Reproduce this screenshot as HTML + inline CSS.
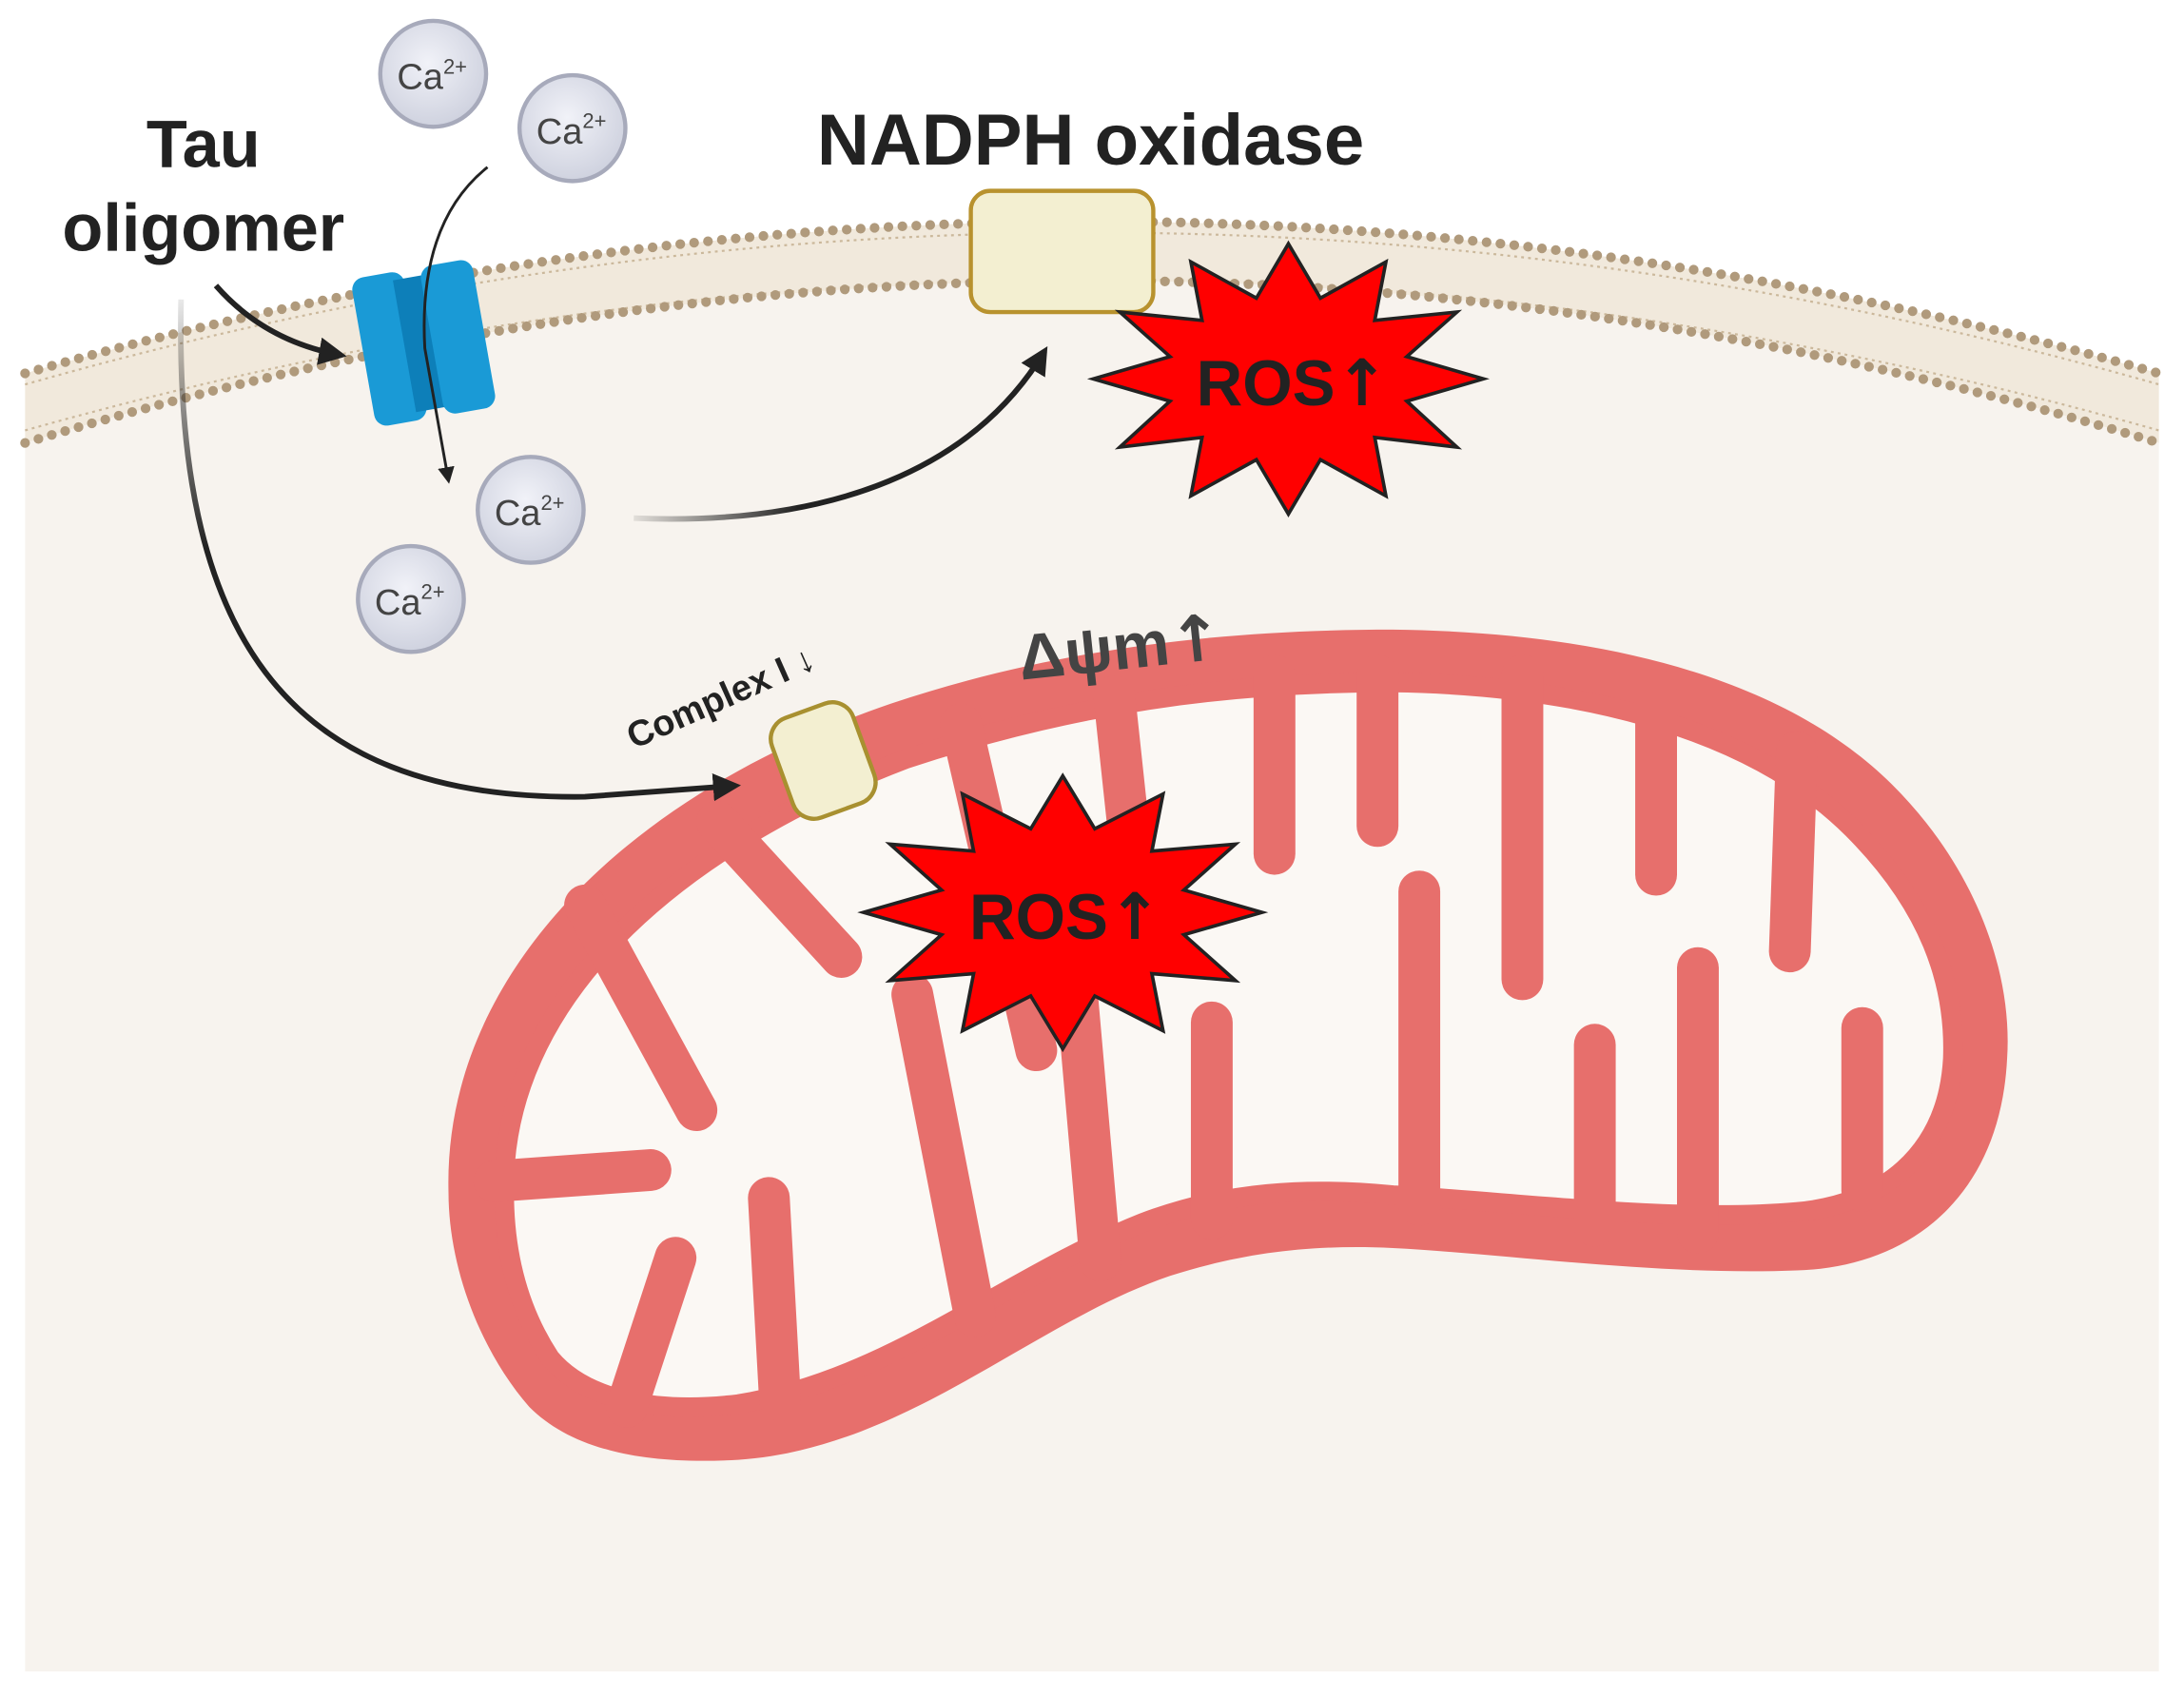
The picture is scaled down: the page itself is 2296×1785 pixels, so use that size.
<!DOCTYPE html>
<html><head><meta charset="utf-8"><style>
html,body{margin:0;padding:0;background:#fff}
svg{display:block}
text{font-family:"Liberation Sans",sans-serif;font-weight:bold}
</style></head><body>
<svg width="2296" height="1785" viewBox="0 0 1568 1219" xmlns="http://www.w3.org/2000/svg">
<defs>
<radialGradient id="ca" cx="0.45" cy="0.4" r="0.6">
<stop offset="0" stop-color="#f1f2f8"/><stop offset="1" stop-color="#cfd2df"/>
</radialGradient>
<linearGradient id="fadeL" x1="0" y1="0" x2="0" y2="1">
<stop offset="0" stop-color="#222" stop-opacity="0.1"/><stop offset="0.5" stop-color="#222"/>
</linearGradient>
<linearGradient id="fadeR" x1="0" y1="0" x2="1" y2="0">
<stop offset="0" stop-color="#222" stop-opacity="0.1"/><stop offset="0.4" stop-color="#222"/>
</linearGradient>
<marker id="ah" viewBox="0 0 10 10" refX="8" refY="5" markerWidth="5" markerHeight="5" orient="auto">
<path d="M0,0 L10,5 L0,10 Z" fill="#222"/></marker>
<marker id="ahs" viewBox="0 0 10 10" refX="8" refY="5" markerWidth="6" markerHeight="6" orient="auto">
<path d="M0,0 L10,5 L0,10 Z" fill="#222"/></marker>
</defs>
<rect width="1568" height="1219" fill="#fff"/>
<path d="M18,318 Q785,85 1550,318 L1550,1200 L18,1200 Z" fill="#f7f3ee"/>
<path d="M18,268 Q785,50 1550,268 L1550,318 Q785,85 18,318 Z" fill="#f1e9dc"/>
<path d="M18,276 Q785,58 1550,276" fill="none" stroke="#cbb89b" stroke-width="1.5" stroke-dasharray="2 3"/>
<path d="M18,309 Q785,92 1550,309" fill="none" stroke="#cbb89b" stroke-width="1.5" stroke-dasharray="2 3"/>
<path d="M18,268 Q785,50 1550,268" fill="none" stroke="#b09a7c" stroke-width="7" stroke-linecap="round" stroke-dasharray="0 10"/>
<path d="M18,318 Q785,85 1550,318" fill="none" stroke="#b09a7c" stroke-width="7" stroke-linecap="round" stroke-dasharray="0 10"/>
<g transform="rotate(-10 305 245)">
<rect x="260" y="192" width="38" height="108" rx="9" fill="#1a9ad6"/>
<rect x="290" y="198" width="28" height="96" fill="#0d7fb9"/>
<rect x="310" y="192" width="38" height="108" rx="9" fill="#1a9ad6"/>
</g>
<g stroke="#a7aabb" stroke-width="3" fill="url(#ca)">
<circle cx="311" cy="53" r="38"/><circle cx="411" cy="92" r="38"/>
<circle cx="381" cy="366" r="38"/><circle cx="295" cy="430" r="38"/>
</g>
<g font-size="26" fill="#444">
<text x="285" y="64" style="font-weight:normal">Ca<tspan font-size="15" dy="-11">2+</tspan></text>
<text x="385" y="103" style="font-weight:normal">Ca<tspan font-size="15" dy="-11">2+</tspan></text>
<text x="355" y="377" style="font-weight:normal">Ca<tspan font-size="15" dy="-11">2+</tspan></text>
<text x="269" y="441" style="font-weight:normal">Ca<tspan font-size="15" dy="-11">2+</tspan></text>
</g>
<text x="146" y="120" font-size="48" text-anchor="middle" fill="#222">Tau</text>
<text x="146" y="180" font-size="48" text-anchor="middle" fill="#222">oligomer</text>
<text x="783" y="118" font-size="52" text-anchor="middle" fill="#222">NADPH oxidase</text>
<rect x="697" y="137" width="131" height="87" rx="14" fill="#f3efd1" stroke="#b8922e" stroke-width="3"/>
<path d="M322,856 C318,700 450,570 640,505 C760,465 880,452 1000,452 C1160,454 1290,490 1365,570 C1420,628 1445,700 1441,760 C1436,860 1370,910 1290,912 C1190,916 1080,900 1000,896 C940,893 890,900 840,916 C740,950 650,1040 530,1048 C460,1052 410,1040 380,1010 C345,970 322,910 322,856 Z" fill="#e76f6c"/>
<path d="M362,856 C360,720 480,610 650,545 C770,505 880,490 1000,490 C1140,492 1260,525 1330,595 C1385,650 1404,705 1402,760 C1398,830 1350,865 1290,870 C1200,878 1080,862 1000,858 C940,852 880,855 820,878 C720,918 640,990 530,1008 C470,1015 420,1005 395,975 C372,940 362,900 362,856 Z" fill="#fbf8f4" stroke="#e76f6c" stroke-width="14"/>
<g stroke="#e76f6c" stroke-width="30" stroke-linecap="round" fill="none">
<path d="M420,650 L500,797"/>
<path d="M515,590 L604,687"/>
<path d="M690,520 L744,754"/>
<path d="M800,500 L815,640"/>
<path d="M915,485 L915,613"/>
<path d="M989,485 L989,593"/>
<path d="M1093,485 L1093,703"/>
<path d="M1189,495 L1189,628"/>
<path d="M1290,540 L1285,683"/>
<path d="M355,848 L467,840"/>
<path d="M560,1005 L552,860"/>
<path d="M450,1010 L485,903"/>
<path d="M700,945 L655,714"/>
<path d="M790,905 L772,700"/>
<path d="M870,875 L870,734"/>
<path d="M1019,865 L1019,640"/>
<path d="M1145,880 L1145,750"/>
<path d="M1219,885 L1219,695"/>
<path d="M1337,855 L1337,738"/>
</g>
<path d="M155,205 Q190,245 245,255" fill="none" stroke="#222" stroke-width="4" marker-end="url(#ah)"/>
<path d="M350,120 Q300,160 305,250 L322,345" fill="none" stroke="#222" stroke-width="2" marker-end="url(#ahs)"/>
<path d="M455,372 C600,378 700,335 750,252" fill="none" stroke="url(#fadeR)" stroke-width="4" marker-end="url(#ah)"/>
<path d="M130,215 C125,450 200,575 420,572 L528,564" fill="none" stroke="url(#fadeL)" stroke-width="4" marker-end="url(#ah)"/>
<rect x="560" y="508" width="62" height="76" rx="16" transform="rotate(-20 591 546)" fill="#f3efd1" stroke="#a89030" stroke-width="3"/>
<text transform="translate(455,538) rotate(-24)" font-size="26" fill="#222">Complex I ↓</text>
<text transform="translate(733,488) rotate(-6)" font-size="46" fill="#444">Δψm<tspan font-family="DejaVu Sans">↑</tspan></text>
<polygon points="1065,272 1010,288 1046,321 987,314 995,356 948,330 925,369 902,330 855,356 863,314 804,321 840,288 785,272 840,256 804,224 863,230 855,188 902,214 925,175 948,214 995,188 987,230 1046,224 1010,256" fill="#f00" stroke="#222" stroke-width="2.5"/>
<text x="928" y="291" font-size="46" text-anchor="middle" fill="#222">ROS<tspan font-family="DejaVu Sans">↑</tspan></text>
<polygon points="906,655 850,671 887,704 827,699 835,740 786,715 763,753 740,715 691,740 699,699 639,704 676,671 620,655 676,639 639,606 699,611 691,570 740,595 763,557 786,595 835,570 827,611 887,606 850,639" fill="#f00" stroke="#222" stroke-width="2.5"/>
<text x="765" y="674" font-size="46" text-anchor="middle" fill="#222">ROS<tspan font-family="DejaVu Sans">↑</tspan></text>
</svg>
</body></html>
